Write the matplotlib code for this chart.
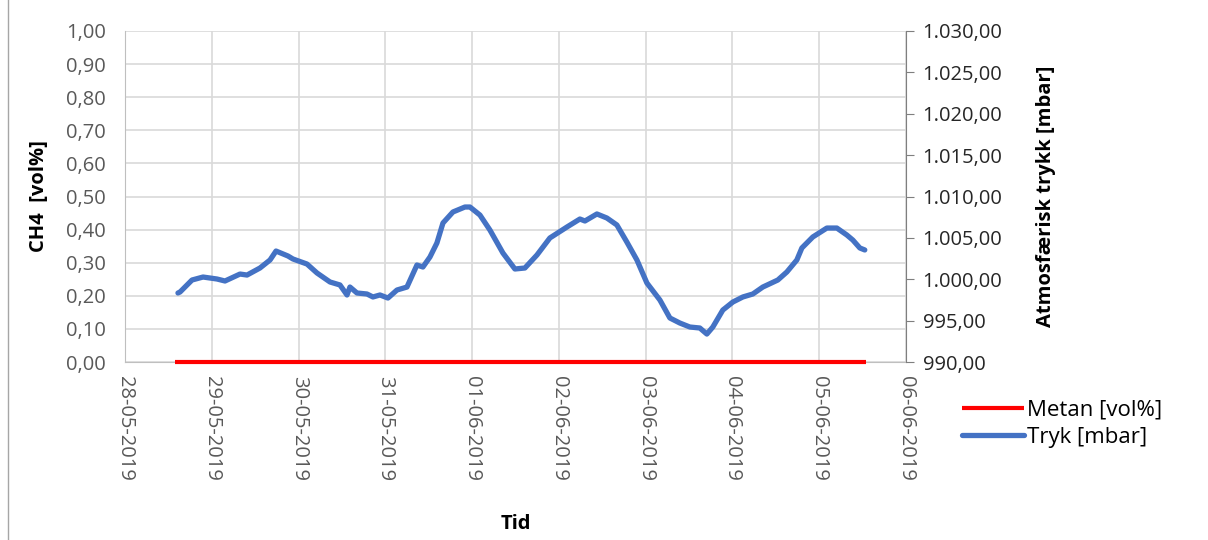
import pandas as pd
import matplotlib
matplotlib.use("Agg")
import matplotlib.pyplot as plt
import matplotlib.dates as mdates
from matplotlib.ticker import FuncFormatter, MultipleLocator
from matplotlib.lines import Line2D

plt.rcParams['font.family'] = ['Open Sans', 'DejaVu Sans']

# days after 28-05-2019 00:00 and pressure in mbar
tryk_days = [0.61, 0.634, 0.772, 0.899, 1.060, 1.152, 1.325, 1.406, 1.555, 1.671, 1.740,
             1.878, 1.935, 2.097, 2.212, 2.362, 2.477, 2.558, 2.592, 2.673, 2.788, 2.857,
             2.938, 3.030, 3.134, 3.249, 3.364, 3.433, 3.514, 3.594, 3.664, 3.779, 3.917,
             3.975, 4.090, 4.205, 4.355, 4.493, 4.608, 4.747, 4.896, 5.092, 5.242, 5.300,
             5.438, 5.553, 5.668, 5.783, 5.899, 6.014, 6.164, 6.279, 6.394, 6.509, 6.624,
             6.705, 6.774, 6.889, 7.005, 7.120, 7.235, 7.350, 7.523, 7.627, 7.742, 7.800,
             7.926, 8.088, 8.203, 8.318, 8.387, 8.468, 8.525]
tryk_mbar = [998.34, 998.46, 999.91, 1000.27, 1000.03, 999.79, 1000.63, 1000.51, 1001.36,
             1002.33, 1003.41, 1002.81, 1002.45, 1001.84, 1000.76, 999.67, 999.31, 998.10,
             999.06, 998.34, 998.22, 997.86, 998.10, 997.73, 998.70, 999.06, 1001.72,
             1001.48, 1002.69, 1004.38, 1006.80, 1008.13, 1008.73, 1008.73, 1007.76,
             1005.95, 1003.17, 1001.24, 1001.36, 1002.93, 1004.99, 1006.31, 1007.28,
             1007.04, 1007.89, 1007.40, 1006.56, 1004.50, 1002.33, 999.55, 997.49, 995.32,
             994.71, 994.23, 994.11, 993.38, 994.23, 996.28, 997.25, 997.86, 998.22,
             999.06, 999.91, 1000.88, 1002.33, 1003.78, 1005.11, 1006.19, 1006.19,
             1005.35, 1004.74, 1003.78, 1003.54]
metan_days = [0.576, 8.536]
metan_vol = [0.0, 0.0]

start = pd.Timestamp('2019-05-28')
end = pd.Timestamp('2019-06-06')
tryk_t = start + pd.to_timedelta(tryk_days, unit='D')
metan_t = start + pd.to_timedelta(metan_days, unit='D')

grey = '#595959'
fig = plt.figure(figsize=(12.08, 5.4), dpi=100)
ax = fig.add_axes([0.1035, 0.3296, 0.6465, 0.613])
ax2 = ax.twinx()

l1, = ax.plot(metan_t, metan_vol, color='#FF0000', lw=3, solid_capstyle='butt', zorder=5, clip_on=False)
l2, = ax2.plot(tryk_t, tryk_mbar, color='#4472C4', lw=3.8, solid_capstyle='round',
               solid_joinstyle='round')

ax.set_xlim(start, end)
ax.set_ylim(0, 1)
ax2.set_ylim(990, 1030)
ax.yaxis.set_major_locator(MultipleLocator(0.1))
ax2.yaxis.set_major_locator(MultipleLocator(5))
ax.yaxis.set_major_formatter(FuncFormatter(lambda v, p: f'{v:.2f}'.replace('.', ',')))
ax2.yaxis.set_major_formatter(FuncFormatter(
    lambda v, p: f'{v:,.2f}'.replace(',', 'X').replace('.', ',').replace('X', '.')))
ax.xaxis.set_major_locator(mdates.DayLocator())
ax.xaxis.set_major_formatter(mdates.DateFormatter('%d-%m-%Y'))

ax.grid(True, color='#D9D9D9', lw=1.2)
ax.set_axisbelow(True)
for s in ['top']:
    ax.spines[s].set_visible(False)
    ax2.spines[s].set_visible(False)
ax2.spines['left'].set_visible(False)
ax2.spines['bottom'].set_visible(False)
ax.spines['right'].set_visible(False)
ax.spines['left'].set_color('#BFBFBF')
ax.spines['bottom'].set_color('#BFBFBF')
ax2.spines['right'].set_color('#7F7F7F')

ax.tick_params(axis='y', length=0, labelsize=14.5, labelcolor=grey, pad=14)
ax.tick_params(axis='x', length=0, labelsize=14.5, labelcolor=grey, pad=10)
ax2.tick_params(axis='y', length=6, color='#7F7F7F', labelsize=14.5, labelcolor='#262626', pad=6)
for lab in ax.get_xticklabels():
    lab.set_rotation(-90)
    lab.set_ha('center')
    lab.set_va('top')

ax.set_ylabel('CH4  [vol%]', fontsize=14.5, fontweight='bold', labelpad=12)
ax2.set_ylabel('Atmosfærisk trykk [mbar]', fontsize=14.5, fontweight='bold', labelpad=24)
ax.set_xlabel('Tid', fontsize=14.5, fontweight='bold', labelpad=24)

fig.legend([l1, l2], ['Metan [vol%]', 'Tryk [mbar]'], loc='center left',
           bbox_to_anchor=(0.78, 0.215), frameon=False, fontsize=16,
           handlelength=2.8, handletextpad=0.1, labelspacing=0.3)

fig.add_artist(Line2D([0.007, 0.007], [0, 1], transform=fig.transFigure, color='#A6A6A6', lw=1))

fig.savefig('out.png', dpi=100)
